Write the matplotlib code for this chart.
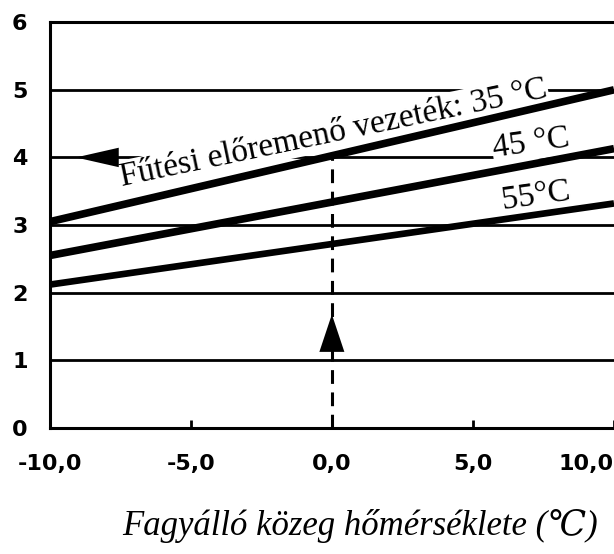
import matplotlib
matplotlib.use("Agg")
import matplotlib.pyplot as plt
import numpy as np

# ---- data ----
x_ends = [-10.0, 10.0]
line_35 = [3.05, 5.00]
line_45 = [2.55, 4.13]
line_55 = [2.12, 3.32]
x_ticks = [-10, -5, 0, 5, 10]
x_tick_labels = ["-10,0", "-5,0", "0,0", "5,0", "10,0"]
y_ticks = [0, 1, 2, 3, 4, 5, 6]
y_tick_labels = ["0", "1", "2", "3", "4", "5", "6"]
grid_levels = [1, 2, 3, 4, 5]
guide_x = 0.0
guide_y = 4.0
label_main = "Fűtési előremenő vezeték: 35 °C"
label_45 = "45 °C"
label_55 = "55°C"
xlabel = "Fagyálló közeg hőmérséklete (℃)"

fig = plt.figure(figsize=(6.14, 5.54), dpi=100)
ax = fig.add_axes([0.081, 0.2274, 0.919, 0.7326])
ax.set_xlim(-10, 10)
ax.set_ylim(0, 6)

# grid lines (horizontal only)
for g in grid_levels:
    ax.axhline(g, color="black", lw=2.0, zorder=1)

# spines
for s in ["left", "bottom", "top"]:
    ax.spines[s].set_linewidth(2.2)
ax.spines["right"].set_visible(False)

# data lines
for ys, lw in [(line_35, 5.5), (line_45, 5.5), (line_55, 4.8)]:
    ax.plot(x_ends, ys, color="black", lw=lw, solid_capstyle="butt", zorder=4)

# guide: dashed vertical from 0 to reading point
ax.plot([guide_x, guide_x], [0, guide_y], color="black", lw=2.2,
        dashes=(4.5, 2.8), zorder=3)
# up arrowhead
ax.annotate("", xy=(guide_x, 1.68), xytext=(guide_x, 1.12),
            arrowprops=dict(arrowstyle="-|>,head_length=1.5,head_width=0.5",
                            mutation_scale=18, lw=0, color="black",
                            shrinkA=0, shrinkB=0), zorder=5)
# left arrowhead on the y=4 line
ax.annotate("", xy=(-9.07, guide_y), xytext=(-7.55, guide_y),
            arrowprops=dict(arrowstyle="-|>,head_length=2.2,head_width=0.5",
                            mutation_scale=14, lw=0, color="black",
                            shrinkA=0, shrinkB=0), zorder=5)

serif = ["Liberation Serif", "DejaVu Serif"]
ax.text(-7.45, 3.58, label_main, rotation=11.8, rotation_mode="anchor",
        ha="left", va="baseline", fontsize=24, fontweight="normal",
        fontstyle="normal", family=serif, color="black",
        bbox=dict(facecolor="white", edgecolor="none", pad=1), zorder=2)
ax.text(5.75, 4.0, label_45, rotation=8, rotation_mode="anchor",
        ha="left", va="baseline", fontsize=24, fontweight="normal",
        fontstyle="normal", family=serif, color="black",
        bbox=dict(facecolor="white", edgecolor="none", pad=0.5), zorder=2)
ax.text(6.05, 3.24, label_55, rotation=8, rotation_mode="anchor",
        ha="left", va="baseline", fontsize=24, fontweight="normal",
        fontstyle="normal", family=serif, color="black",
        bbox=dict(facecolor="white", edgecolor="none", pad=0.5), zorder=2)

# ticks
ax.set_xticks(x_ticks)
ax.set_xticklabels(x_tick_labels, fontsize=16, fontweight="bold",
                   family="DejaVu Sans")
ax.get_xticklabels()[-1].set_horizontalalignment("right")
ax.tick_params(axis="x", direction="in", length=6, width=2, pad=19)
ax.set_yticks(y_ticks)
ax.set_yticklabels(y_tick_labels, fontsize=16, fontweight="bold",
                   family="DejaVu Sans")
ax.tick_params(axis="y", length=0, pad=16)

fig.text(0.586, 0.05, xlabel, ha="center", va="center", fontsize=25,
         family=serif, style="italic")

fig.savefig("out.png", dpi=100)
